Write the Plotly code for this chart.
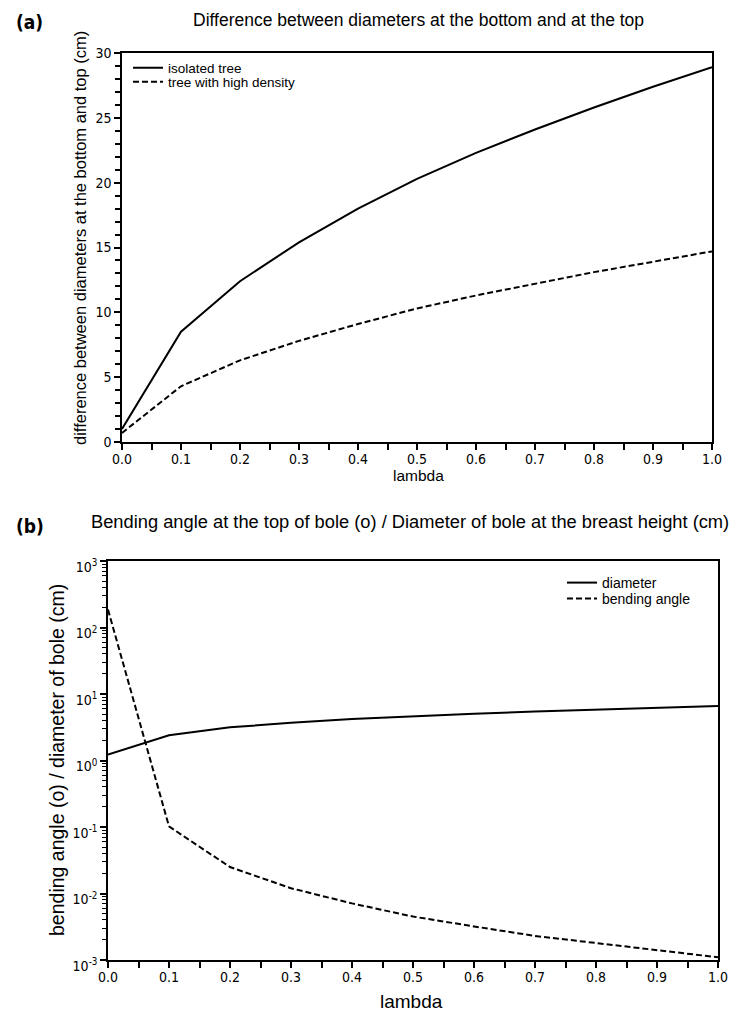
import plotly.graph_objects as go

# ---------------- data ----------------
lam = [0.0, 0.1, 0.2, 0.3, 0.4, 0.5, 0.6, 0.7, 0.8, 0.9, 1.0]
diff_isolated = [1.0, 8.5, 12.4, 15.4, 18.0, 20.3, 22.3, 24.1, 25.8, 27.4, 28.9]
diff_dense = [0.7, 4.3, 6.3, 7.8, 9.1, 10.3, 11.3, 12.2, 13.1, 13.9, 14.7]
diameter = [1.23, 2.4, 3.15, 3.7, 4.2, 4.65, 5.05, 5.45, 5.8, 6.2, 6.6]
bending = [186, 0.102, 0.025, 0.012, 0.0071, 0.0045, 0.0032, 0.0023, 0.0018, 0.0014, 0.0011]
x_ticks = [0.0, 0.1, 0.2, 0.3, 0.4, 0.5, 0.6, 0.7, 0.8, 0.9, 1.0]
y_ticks_a = [0, 5, 10, 15, 20, 25, 30]
y_ticks_b = [1e-3, 1e-2, 1e-1, 1e0, 1e1, 1e2, 1e3]
y_ticktext_b = ["10<sup>-3</sup>", "10<sup>-2</sup>", "10<sup>-1</sup>", "10<sup>0</sup>",
                "10<sup>1</sup>", "10<sup>2</sup>", "10<sup>3</sup>"]

W, H = 750, 1021
OFF = 8  # the page body adds an 8px margin; positions below are page pixels


def px(x):
    return (x - OFF) / W


def py(y):
    return 1 - (y - OFF) / H


NARROW = "Liberation Sans Narrow, Arial Narrow, DejaVu Sans Condensed, sans-serif"
SANS = "Liberation Sans, Arial, sans-serif"

fig = go.Figure()
fig.add_trace(go.Scatter(x=lam, y=diff_isolated, mode="lines", name="isolated tree",
                         line=dict(color="black", width=2), xaxis="x", yaxis="y", legend="legend"))
fig.add_trace(go.Scatter(x=lam, y=diff_dense, mode="lines", name="tree with high density",
                         line=dict(color="black", width=2, dash="6px,3px"), xaxis="x", yaxis="y", legend="legend2"))
fig.add_trace(go.Scatter(x=lam, y=diameter, mode="lines", name="diameter",
                         line=dict(color="black", width=2), xaxis="x2", yaxis="y2", legend="legend3"))
fig.add_trace(go.Scatter(x=lam, y=bending, mode="lines", name="bending angle",
                         line=dict(color="black", width=2, dash="6px,3px"), xaxis="x2", yaxis="y2", legend="legend4"))

axis_common = dict(showline=True, linecolor="black", linewidth=1.5, mirror=True, showgrid=False,
                   zeroline=False, ticks="outside", tickcolor="black", tickwidth=1.5, automargin=False,
                   tickfont=dict(family=NARROW, size=14, color="black"))
xminor = dict(ticks="outside", dtick=0.05, ticklen=6, tickcolor="black", tickwidth=1.5)

fig.update_layout(
    width=W, height=H, margin=dict(l=0, r=0, t=0, b=0, autoexpand=False),
    plot_bgcolor="white", paper_bgcolor="white",
    xaxis=dict(domain=[px(122), px(712)], range=[0, 1], anchor="y",
               tickvals=x_ticks, ticktext=[f"{v:.1f}" for v in x_ticks], ticklen=6,
               ticklabelstandoff=-3, minor=xminor, **axis_common),
    yaxis=dict(domain=[py(442), py(53)], range=[0, 30], anchor="x",
               tickvals=y_ticks_a, ticklen=6,
               minor=dict(ticks="outside", dtick=1, ticklen=5, tickcolor="black", tickwidth=1.5),
               **axis_common),
    xaxis2=dict(domain=[px(108), px(718)], range=[0, 1], anchor="y2",
                tickvals=x_ticks, ticktext=[f"{v:.1f}" for v in x_ticks], ticklen=6,
                ticklabelstandoff=-3, minor=xminor, **axis_common),
    yaxis2=dict(domain=[py(960), py(561)], type="log", range=[-3, 3], anchor="x2",
                tickvals=y_ticks_b, ticktext=y_ticktext_b, ticklen=6, ticklabelshift=6,
                minor=dict(ticks="outside", ticklen=4, tickcolor="black", tickwidth=1,
                           tickvals=[m * 10 ** e for e in range(-3, 3) for m in range(2, 10)]),
                **axis_common),
    showlegend=True,
)


def leg(x, y, size):
    return dict(x=px(x), y=py(y), xanchor="left", yanchor="middle", bgcolor="rgba(0,0,0,0)",
                font=dict(family=SANS, size=size, color="black"), itemwidth=30,
                borderwidth=0, tracegroupgap=0)


fig.update_layout(
    legend=leg(128, 68, 13.5),
    legend2=leg(128, 82, 13.5),
    legend3=leg(562, 583, 14),
    legend4=leg(562, 599, 14),
)


def ann(text, x, y, size, family=SANS, xanchor="center", angle=0):
    return dict(text=text, x=px(x), y=py(y), xref="paper", yref="paper",
                xanchor=xanchor, yanchor="middle", textangle=angle,
                font=dict(family=family, size=size, color="black"), showarrow=False)


annotations = [
    ann("<b>(a)</b>", 14, 22, 19, family=NARROW, xanchor="left"),
    ann("Difference between diameters at the bottom and at the top", 418, 20, 17.5),
    ann("difference between diameters at the bottom and top (cm)", 80, 238, 16.5, angle=-90),
    ann("lambda", 418, 475, 15.5),
    ann("<b>(b)</b>", 14, 526, 19, family=NARROW, xanchor="left"),
    ann("Bending angle at the top of bole (o) / Diameter of bole at the breast height (cm)", 410, 521, 18.3),
    ann("bending angle (o) / diameter of bole (cm)", 57, 760, 19.5, angle=-90),
    ann("lambda", 412, 1001, 19),
]
fig.update_layout(annotations=annotations)

fig.write_html("out.html")
